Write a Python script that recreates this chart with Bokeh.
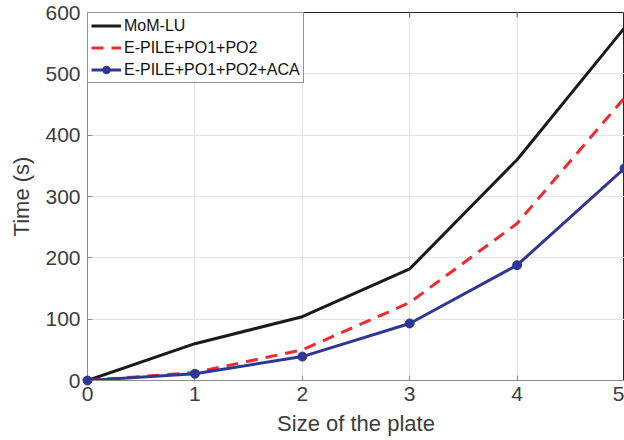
from bokeh.plotting import figure
from bokeh.models import Range1d, Legend, LegendItem, FixedTicker
from bokeh.embed import file_html
from bokeh.resources import INLINE

sizes = [0, 1, 2, 3, 4, 5]
mom_lu = [0, 60, 104, 182, 360, 575]
epile = [0, 13, 50, 127, 256, 461]
epile_aca = [0, 11, 39, 93, 188, 346]
x_ticks = [0, 1, 2, 3, 4, 5]
y_ticks = [0, 100, 200, 300, 400, 500, 600]

FONT = "Liberation Sans"
TXT = "#3c3c3c"

p = figure(width=624, height=440, output_backend="svg", toolbar_location=None,
           x_range=Range1d(x_ticks[0], x_ticks[-1]), y_range=Range1d(y_ticks[0], y_ticks[-1]),
           min_border_left=87, min_border_right=0, min_border_top=12, min_border_bottom=60)
p.outline_line_color = "#262626"
p.outline_line_width = 1
p.background_fill_color = "white"
p.border_fill_color = "white"

for ax in (p.xaxis[0], p.yaxis[0]):
    ax.major_tick_in = 5
    ax.major_tick_out = 0
    ax.minor_tick_in = 0
    ax.minor_tick_out = 0
    ax.axis_line_color = "#8a8a8a"
    ax.major_tick_line_color = "#8a8a8a"
    ax.major_label_text_font = FONT
    ax.major_label_text_font_size = "21px"
    ax.major_label_text_color = TXT
    ax.axis_label_text_font = FONT
    ax.axis_label_text_font_size = "22px"
    ax.axis_label_text_font_style = "normal"
    ax.axis_label_text_color = TXT

p.xaxis.ticker = FixedTicker(ticks=x_ticks)
p.yaxis.ticker = FixedTicker(ticks=y_ticks)
p.xaxis.axis_label = "Size of the plate"
p.yaxis.axis_label = "Time (s)"
p.xaxis.major_label_standoff = 6
p.xaxis.axis_label_standoff = 7
p.yaxis.major_label_standoff = 7
p.yaxis.axis_label_standoff = 8

p.xgrid.ticker = FixedTicker(ticks=x_ticks)
p.ygrid.ticker = FixedTicker(ticks=y_ticks)
p.grid.grid_line_color = "#e3e3e3"
p.grid.grid_line_width = 1

# inward ticks on the top border of the box
ymax = y_ticks[-1]
tick_len = 8
p.segment(x0=x_ticks, y0=[ymax] * len(x_ticks), x1=x_ticks, y1=[ymax - tick_len] * len(x_ticks),
          line_color="#555555", line_width=1)

r1 = p.line(sizes, mom_lu, line_color="#1a1a1a", line_width=3)
r2 = p.line(sizes, epile, line_color="#ee2a2e", line_width=3, line_dash="12 8")
r3 = p.line(sizes, epile_aca, line_color="#2e3796", line_width=3)
r3m = p.scatter(sizes, epile_aca, marker="circle", size=9, fill_color="#2e3796", line_color="#2e3796")
r3m.level = "overlay"

legend = Legend(items=[
    LegendItem(label="MoM-LU", renderers=[r1]),
    LegendItem(label="E-PILE+PO1+PO2", renderers=[r2]),
    LegendItem(label="E-PILE+PO1+PO2+ACA", renderers=[r3, r3m]),
], location="top_left")
legend.margin = 0
legend.padding = 3
legend.spacing = 3
legend.glyph_width = 30
legend.glyph_height = 19
legend.label_height = 19
legend.label_standoff = 3
legend.label_text_font = FONT
legend.label_text_font_size = "16px"
legend.label_text_color = "#111111"
legend.border_line_color = "#262626"
legend.border_line_width = 1
legend.background_fill_alpha = 1
p.add_layout(legend)

open("out.html", "w").write(file_html(p, INLINE))
